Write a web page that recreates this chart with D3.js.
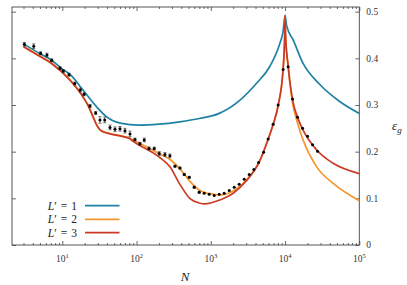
<!DOCTYPE html>
<html><head><meta charset="utf-8">
<script src="https://cdn.jsdelivr.net/npm/d3@7"></script>
<style>body{margin:0;background:#fff;} svg{display:block;}</style>
</head><body><svg id="c" width="407" height="285"></svg>
<script>
// ---- data ----
const pointN   = [3.08,4.12,5.1,6.2,7.2,9.3,10.3,12.3,14.7,17.5,19.6,23.6,28.1,32.1,37.2,43.9,51.2,59.8,69.8,81.5,95,111,127,147,173,202,241,281,329,384,439,512,598,698,815,950,1111,1297,1514,1770,2065,2410,2816,3288,3802,4395,5140,5916,6918,8072,9420,11015,12620,14730,17210,20090,23440,27370];
const pointEps = [0.430,0.426,0.411,0.407,0.396,0.379,0.373,0.365,0.346,0.332,0.323,0.298,0.283,0.268,0.268,0.252,0.248,0.249,0.245,0.238,0.226,0.217,0.225,0.207,0.207,0.196,0.194,0.191,0.169,0.165,0.151,0.145,0.124,0.113,0.111,0.109,0.106,0.109,0.111,0.117,0.124,0.130,0.141,0.151,0.162,0.177,0.199,0.227,0.259,0.300,0.376,0.382,0.313,0.274,0.250,0.233,0.215,0.201];
const pointErr = [0.004,0.005,0.003,0.004,0.003,0.003,0.003,0.003,0.003,0.004,0.003,0.003,0.003,0.007,0.006,0.005,0.005,0.005,0.005,0.006,0.003,0.003,0.004,0.003,0.003,0.004,0.004,0.004,0.002,0.002,0.002,0.002,0.002,0.002,0.001,0.001,0.001,0.001,0.001,0.001,0.001,0.001,0.001,0.001,0.001,0.001,0.001,0.001,0.001,0.001,0.001,0.001,0.001,0.001,0.001,0.001,0.001,0.001];

const curveN1   = [3,5,7,10,13,19,29,40,60,110,200,380,700,1300,2500,4100,6200,8500,9400,10000,10500,12900,17500,29000,55000,100000];
const curveEps1 = [0.431,0.410,0.397,0.377,0.364,0.332,0.296,0.274,0.261,0.257,0.259,0.264,0.271,0.282,0.311,0.346,0.382,0.432,0.457,0.492,0.470,0.439,0.389,0.345,0.307,0.282];

const curveN2   = [3,5,7,12.7,19,22.5,26,29,32,36,44,80,90,200,300,400,520,710,970,1320,1800,2470,3360,4580,5900,6900,8100,9400,9900,10000,10150,11000,12600,14700,17500,26500,44500,100000];
const curveEps2 = [0.426,0.405,0.391,0.354,0.318,0.298,0.275,0.258,0.248,0.243,0.239,0.229,0.225,0.196,0.180,0.160,0.137,0.117,0.110,0.107,0.112,0.126,0.148,0.181,0.226,0.258,0.300,0.375,0.450,0.492,0.450,0.382,0.305,0.262,0.225,0.168,0.132,0.095];

const curveN3   = [3,5,7,12.7,19,22.5,26,29,32,36,44,80,90,200,280,384,520,700,830,1300,2000,3000,4580,5900,6900,8100,9400,9900,10000,10150,11000,12600,14700,17500,26500,44500,100000];
const curveEps3 = [0.425,0.404,0.390,0.353,0.317,0.297,0.274,0.257,0.247,0.242,0.238,0.228,0.222,0.189,0.168,0.130,0.100,0.090,0.088,0.096,0.111,0.137,0.181,0.226,0.258,0.300,0.376,0.450,0.492,0.450,0.385,0.312,0.274,0.246,0.204,0.175,0.153];

const seriesLabels = ["1","2","3"];
const seriesColors = ["#1f82a3","#f5962f","#cb3a27"];
const xMajorTicks = [10,100,1000,10000,100000];
const xTickExps = ["1","2","3","4","5"];
const yTicks = [0,0.1,0.2,0.3,0.4,0.5];
const yTickLabels = ["0","0.1","0.2","0.3","0.4","0.5"];

// ---- layout ----
const L = 12, R = 359.3, T = 7, B = 245;
const svg = d3.select("#c");
const x = d3.scaleLog().domain([2.1, 1e5]).range([L, R]);
const y = d3.scaleLinear().domain([0, 0.51]).range([B, T]);
const axisColor = "#444";
const font = "'Liberation Serif','DejaVu Serif',serif";

// minor ticks
const minor = [];
for (let e = 0; e < 5; e++) for (let m = 2; m <= 9; m++) { const v = m * Math.pow(10, e); if (v >= 2.1 && v <= 1e5) minor.push(v); }

function styleAxis(g){ g.select(".domain").remove(); g.selectAll("line").attr("stroke", axisColor).attr("stroke-width", 0.8); g.selectAll("text").remove(); }

svg.append("g").attr("transform",`translate(0,${B})`).call(d3.axisBottom(x).tickValues(xMajorTicks).tickSizeInner(-4).tickSizeOuter(0).tickFormat("")).call(styleAxis);
svg.append("g").attr("transform",`translate(0,${B})`).call(d3.axisBottom(x).tickValues(minor).tickSizeInner(-2).tickSizeOuter(0).tickFormat("")).call(styleAxis);
svg.append("g").attr("transform",`translate(0,${T})`).call(d3.axisTop(x).tickValues(xMajorTicks).tickSizeInner(-4).tickSizeOuter(0).tickFormat("")).call(styleAxis);
svg.append("g").attr("transform",`translate(0,${T})`).call(d3.axisTop(x).tickValues(minor).tickSizeInner(-2).tickSizeOuter(0).tickFormat("")).call(styleAxis);
svg.append("g").attr("transform",`translate(${L},0)`).call(d3.axisLeft(y).tickValues(yTicks).tickSizeInner(-4).tickSizeOuter(0).tickFormat("")).call(styleAxis);
svg.append("g").attr("transform",`translate(${R},0)`).call(d3.axisRight(y).tickValues(yTicks).tickSizeInner(-4).tickSizeOuter(0).tickFormat("")).call(styleAxis);

// frame
svg.append("rect").attr("x",L).attr("y",T).attr("width",R-L).attr("height",B-T)
  .attr("fill","none").attr("stroke",axisColor).attr("stroke-width",0.9);

// x tick labels
const xl = svg.append("g").attr("font-family",font).attr("fill","#333");
xMajorTicks.forEach((v,i)=>{
  const t = xl.append("text").attr("x", x(v)).attr("y", 261.5).attr("text-anchor","middle").attr("font-size",9.5);
  t.append("tspan").text("10");
  t.append("tspan").attr("dy",-4).attr("font-size",6.5).text(xTickExps[i]);
});
// y tick labels
yTicks.forEach((v,i)=>{
  xl.append("text").attr("x", R+7).attr("y", y(v)+3.3).attr("font-size",9.5).text(yTickLabels[i]);
});

// axis titles
svg.append("text").attr("x",185).attr("y",281).attr("text-anchor","middle").attr("font-family",font)
  .attr("font-style","italic").attr("font-size",13).attr("fill","#222").text("N");
const et = svg.append("text").attr("x",392).attr("y",130).attr("font-family",font).attr("font-size",13).attr("fill","#222");
et.append("tspan").attr("font-style","italic").text("ε");
et.append("tspan").attr("font-style","italic").attr("font-size",9).attr("dy",3).text("g");

// curves
const curves = [[curveN1,curveEps1],[curveN2,curveEps2],[curveN3,curveEps3]];
const line = d3.line().x(d=>x(d[0])).y(d=>y(d[1])).curve(d3.curveMonotoneX);
curves.forEach((c,i)=>{
  const pts = c[0].map((n,j)=>[n,c[1][j]]);
  svg.append("path").datum(pts).attr("d",line).attr("fill","none")
    .attr("stroke",seriesColors[i]).attr("stroke-width",1.7).attr("stroke-linejoin","round");
});

// points with error bars
const pts = pointN.map((n,i)=>({n, e:pointEps[i], s:pointErr[i]}));
const pg = svg.append("g");
pg.selectAll("line.eb").data(pts.filter(d=>d.s>0.0015)).join("line")
  .attr("x1",d=>x(d.n)).attr("x2",d=>x(d.n)).attr("y1",d=>y(d.e-d.s)).attr("y2",d=>y(d.e+d.s))
  .attr("stroke","#222").attr("stroke-width",0.6);
["lo","hi"].forEach(k=>{
  pg.selectAll("line.c"+k).data(pts.filter(d=>d.s>0.0015)).join("line")
    .attr("x1",d=>x(d.n)-1.6).attr("x2",d=>x(d.n)+1.6)
    .attr("y1",d=>y(k==="lo"?d.e-d.s:d.e+d.s)).attr("y2",d=>y(k==="lo"?d.e-d.s:d.e+d.s))
    .attr("stroke","#222").attr("stroke-width",0.6);
});
pg.selectAll("circle").data(pts).join("circle")
  .attr("cx",d=>x(d.n)).attr("cy",d=>y(d.e)).attr("r",1.5).attr("fill","#000");

// legend
const lg = svg.append("g").attr("font-family",font).attr("font-size",11.5).attr("fill","#222");
const legY = [205.7,219.3,232.7];
seriesLabels.forEach((s,i)=>{
  const t = lg.append("text").attr("x",77).attr("y",legY[i]+4).attr("text-anchor","end");
  t.append("tspan").attr("font-style","italic").text("L");
  t.append("tspan").text("′");
  t.append("tspan").attr("dx",4).text("=");
  t.append("tspan").attr("dx",4).text(s);
  lg.append("line").attr("x1",85).attr("x2",119.5).attr("y1",legY[i]).attr("y2",legY[i])
    .attr("stroke",seriesColors[i]).attr("stroke-width",1.7);
});
</script></body></html>
